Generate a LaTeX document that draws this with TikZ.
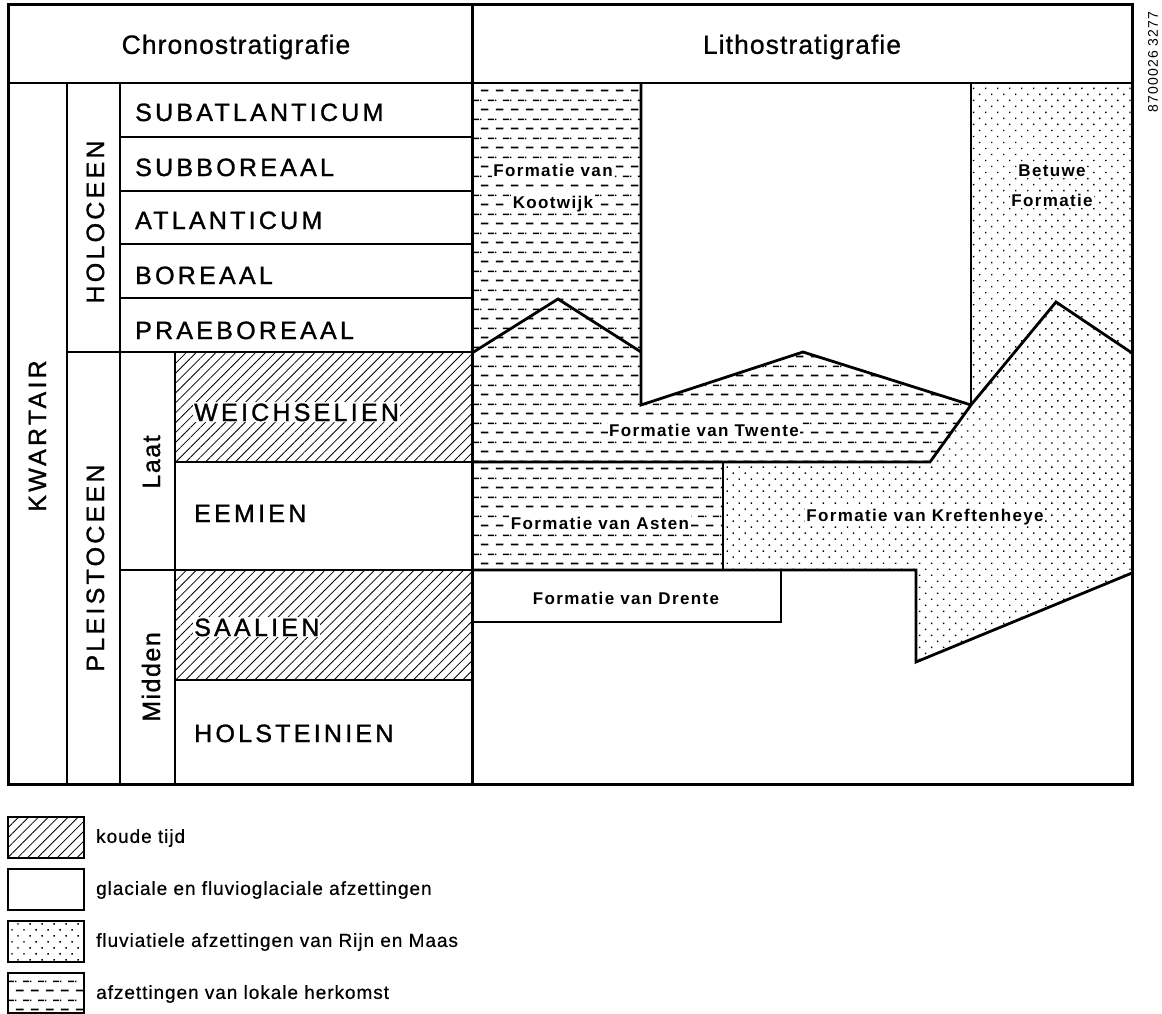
\documentclass[tikz,border=0pt]{standalone}
\usepackage{fontspec}
\setmainfont{Liberation Sans}
\newfontfamily\kopfam[LetterSpace=4,FakeBold=0.8]{Liberation Sans}
\newfontfamily\tijdfam[LetterSpace=13,FakeBold=1.2]{Liberation Sans}
\newfontfamily\subfam[LetterSpace=6,FakeBold=1.2]{Liberation Sans}
\newfontfamily\formfam[LetterSpace=8]{Liberation Sans}
\newfontfamily\legfam[LetterSpace=5,FakeBold=0.6]{Liberation Sans}
\newfontfamily\codefam[LetterSpace=8]{Liberation Sans}
\usepackage{tikz}
\usetikzlibrary{patterns,patterns.meta}

% streepjes voor afzettingen van lokale herkomst
\pgfdeclarepatternformonly{lokaalstreep}{\pgfpointorigin}{\pgfpoint{15pt}{18.6pt}}{\pgfpoint{15pt}{18.6pt}}{
  \pgfsetlinewidth{1.6pt}
  \pgfpathmoveto{\pgfpoint{1pt}{4.6pt}}\pgfpathlineto{\pgfpoint{9pt}{4.6pt}}
  \pgfpathmoveto{\pgfpoint{8.5pt}{13.9pt}}\pgfpathlineto{\pgfpoint{15pt}{13.9pt}}
  \pgfpathmoveto{\pgfpoint{0pt}{13.9pt}}\pgfpathlineto{\pgfpoint{1.5pt}{13.9pt}}
  \pgfusepath{stroke}
}

\tikzset{
  rand/.style={line width=3pt},
  lijn/.style={line width=2.2pt},
  grens/.style={line width=2.8pt, line join=miter},
  koud/.style={pattern={Lines[angle=45,distance=7pt,line width=0.8pt]}},
  rivier/.style={pattern={Dots[angle=45,distance=8.5pt,radius=1pt]}},
  lokaal/.style={pattern=lokaalstreep},
  kop/.style={font=\kopfam\fontsize{26.5}{30}\selectfont, inner sep=0pt},
  tijd/.style={font=\tijdfam\fontsize{25}{28}\selectfont, anchor=west,
               inner sep=1pt, text height=18pt, text depth=0pt},
  tijdv/.style={font=\tijdfam\fontsize{25}{28}\selectfont, rotate=90,
                inner sep=0pt, text height=18pt, text depth=0pt},
  subv/.style={font=\subfam\fontsize{25}{28}\selectfont, rotate=90,
               inner sep=0pt, text height=18pt, text depth=0pt},
  form/.style={font=\formfam\bfseries\fontsize{17}{20}\selectfont, fill=white,
               inner sep=1.5pt, text height=12.5pt, text depth=0pt},
  legtxt/.style={font=\legfam\fontsize{19}{22}\selectfont, anchor=west,
                 inner sep=0pt},
  nummer/.style={font=\codefam\fontsize{14}{16}\selectfont, rotate=90, inner sep=0pt},
}

\begin{document}
\begin{tikzpicture}[x=1pt, y=-1pt]
  \useasboundingbox (0,0) rectangle (1162,1014);

  % vullingen
  \fill[koud] (175,352) rectangle (472,462);
  \fill[koud] (175,570) rectangle (472,680);
  \fill[lokaal] (472,83) -- (641,83) -- (641,405) -- (803,352) -- (971,405)
    -- (930,462) -- (472,462) -- cycle;
  \fill[lokaal] (472,462) rectangle (723,570);
  \fill[rivier] (971,83) -- (1132,83) -- (1132,573) -- (916,662) -- (916,570)
    -- (723,570) -- (723,462) -- (930,462) -- (971,405) -- cycle;

  % chronostratigrafie
  \draw[lijn] (8,83) -- (1132,83);
  \draw[lijn] (67,83) -- (67,784);
  \draw[lijn] (120,83) -- (120,784);
  \draw[lijn] (175,352) -- (175,784);
  \draw[lijn] (67,352) -- (472,352);
  \foreach \y in {137,191,244,298}
    \draw[lijn] (120,\y) -- (472,\y);
  \draw[lijn] (175,462) -- (472,462);
  \draw[lijn] (120,570) -- (472,570);
  \draw[lijn] (175,680) -- (472,680);

  % lithostratigrafie
  \draw[grens] (472,353) -- (558,299) -- (641,352);
  \draw[grens] (641,83) -- (641,405) -- (803,352) -- (971,405);
  \draw[grens] (971,83) -- (971,405);
  \draw[grens] (472,462) -- (930,462) -- (971,405) -- (1056,302) -- (1132,353);
  \draw[grens] (723,462) -- (723,570);
  \draw[grens] (472,570) -- (916,570) -- (916,662) -- (1132,573);
  \draw[grens] (781,570) -- (781,622) -- (472,622);

  \draw[rand] (8,5) rectangle (1132,784);
  \draw[rand] (472,5) -- (472,784);

  \node[kop] (chrono) at (236,47) {Chronostratigrafie};
  \node[kop] (litho) at (802,47) {Lithostratigrafie};

  \node[tijdv] (kwartair) at (37,436) {KWARTAIR};
  \node[tijdv] (holoceen) at (95,222) {HOLOCEEN};
  \node[tijdv] (pleistoceen) at (95,568) {PLEISTOCEEN};
  \node[subv] (laat) at (151,462) {Laat};
  \node[subv] (midden) at (151,677) {Midden};

  \node[tijd] (subatl) at (134,112) {SUBATLANTICUM};
  \node[tijd] (subbor) at (134,167) {SUBBOREAAL};
  \node[tijd] (atl) at (134,220) {ATLANTICUM};
  \node[tijd] (bor) at (134,275) {BOREAAL};
  \node[tijd] (praebor) at (134,330) {PRAEBOREAAL};
  \node[tijd, fill=white] (weichsel) at (193,412) {WEICHSELIEN};
  \node[tijd] (eem) at (193,513) {EEMIEN};
  \node[tijd, fill=white] (saale) at (193,627) {SAALIEN};
  \node[tijd] (holstein) at (193,733) {HOLSTEINIEN};

  \node[form] (kootwijk1) at (553,170) {Formatie van};
  \node[form] (kootwijk2) at (553,202) {Kootwijk};
  \node[form] (betuwe1) at (1052,170) {Betuwe};
  \node[form] (betuwe2) at (1052,200) {Formatie};
  \node[form] (twente) at (704,430) {Formatie van Twente};
  \node[form] (asten) at (600,523) {Formatie van Asten};
  \node[form] (kreften) at (925,515) {Formatie van Kreftenheye};
  \node[form, fill=none] (drente) at (626,598) {Formatie van Drente};

  \node[nummer] (code) at (1153,62) {8700026 3277};

  % legenda
  \draw[lijn, koud] (8,817) rectangle (84,858);
  \draw[lijn] (8,869) rectangle (84,910);
  \draw[lijn, rivier] (8,921) rectangle (84,962);
  \draw[lijn, lokaal] (8,973) rectangle (84,1013);
  \node[legtxt] (leg1) at (96,838) {koude tijd};
  \node[legtxt] (leg2) at (96,890) {glaciale en fluvioglaciale afzettingen};
  \node[legtxt] (leg3) at (96,942) {fluviatiele afzettingen van Rijn en Maas};
  \node[legtxt] (leg4) at (96,994) {afzettingen van lokale herkomst};
\end{tikzpicture}
\end{document}
